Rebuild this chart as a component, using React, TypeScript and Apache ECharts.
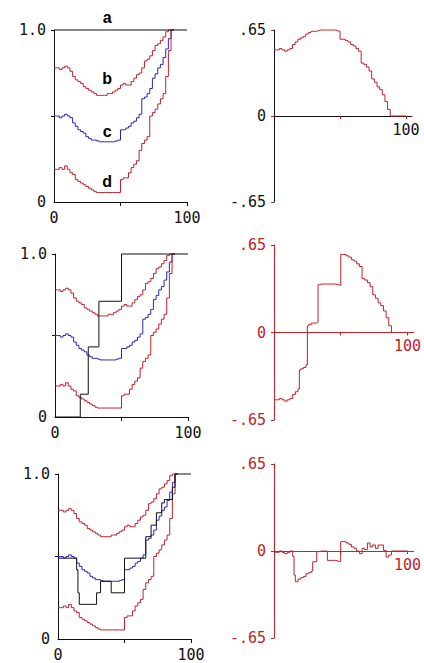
import React, { useEffect, useRef } from "react";
import * as echarts from "echarts";

// x grid of the three band curves
const xs = [0, 2, 4, 6, 8, 10, 12, 14, 16, 18, 20, 22, 24, 26, 28, 30, 32, 34, 36, 38, 40, 42, 44, 46, 48, 50, 52, 54, 56, 58, 60, 62, 64, 66, 68, 70, 72, 74, 76, 78, 80, 82, 84, 86, 88, 90];
// curve b (upper, red)
const curveB = [0.78, 0.78, 0.77, 0.78, 0.79, 0.78, 0.76, 0.73, 0.71, 0.70, 0.69, 0.67, 0.66, 0.65, 0.64, 0.63, 0.62, 0.62, 0.62, 0.62, 0.63, 0.63, 0.64, 0.65, 0.66, 0.68, 0.69, 0.68, 0.68, 0.70, 0.72, 0.74, 0.75, 0.78, 0.82, 0.83, 0.85, 0.88, 0.91, 0.92, 0.94, 0.96, 0.99, 1.0, 1.0, 1.0];
// curve c (middle, blue)
const curveC = [0.50, 0.50, 0.49, 0.50, 0.51, 0.50, 0.49, 0.46, 0.44, 0.42, 0.41, 0.40, 0.38, 0.37, 0.36, 0.36, 0.355, 0.35, 0.35, 0.35, 0.35, 0.35, 0.35, 0.355, 0.36, 0.42, 0.42, 0.43, 0.44, 0.46, 0.47, 0.49, 0.51, 0.60, 0.61, 0.63, 0.66, 0.72, 0.745, 0.78, 0.80, 0.84, 0.89, 0.95, 1.0, 1.0];
// curve d (lower, red)
const curveD = [0.19, 0.19, 0.20, 0.19, 0.21, 0.19, 0.17, 0.16, 0.13, 0.12, 0.11, 0.10, 0.09, 0.08, 0.07, 0.06, 0.055, 0.055, 0.055, 0.055, 0.055, 0.055, 0.055, 0.055, 0.055, 0.13, 0.14, 0.14, 0.17, 0.20, 0.22, 0.24, 0.30, 0.34, 0.36, 0.38, 0.50, 0.52, 0.54, 0.57, 0.60, 0.63, 0.73, 0.88, 1.0, 1.0];

// black step functions, one per row
const stepX1 = [0, 100];
const stepY1 = [1, 1];
const stepX2 = [0, 19, 25, 33, 50, 100];
const stepY2 = [0, 0.14, 0.43, 0.71, 1, 1];
const stepX3 = [0, 14, 15, 16, 29, 32, 40, 50, 66, 70, 74, 78, 80, 86, 88, 100];
const stepY3 = [0.49, 0.42, 0.28, 0.21, 0.28, 0.35, 0.28, 0.49, 0.62, 0.69, 0.765, 0.825, 0.845, 0.92, 1, 1];

// tick labels
const leftYLabelValues = [0, 1];
const leftYLabelTexts = ["0", "1.0"];
const leftXLabelValues = [0, 100];
const leftXLabelTexts = ["0", "100"];
const rightYLabelValues = [-0.65, 0, 0.65];
const rightYLabelTexts = ["-.65", "0", ".65"];
const rightXLabelValues = [100];
const rightXLabelTexts = ["100"];

// curve names in the first panel
const curveNames = ["a", "b", "c", "d"];
const curveNameX = [40, 40, 40, 40];
const curveNameY = [1.07, 0.72, 0.41, 0.12];

const RED = "#c42228";
const BLUE = "#2828c4";
const BLACK = "#111111";
const FONT = "DejaVu Sans Mono";

function stepAt(xArr: number[], yArr: number[], x: number) {
  let v = yArr[0];
  for (let i = 0; i < xArr.length; i++) if (xArr[i] <= x + 1e-9) v = yArr[i];
  return v;
}

function diffSeries(sx: number[], sy: number[]) {
  const all = Array.from(new Set([...xs, ...sx])).filter((x) => x <= 100).sort((a, b) => a - b);
  return all.map((x) => [x, +(stepAt(sx, sy, x) - stepAt(xs, curveC, x)).toFixed(4)]);
}

function fmt(values: number[], texts: string[]) {
  return (v: number) => {
    const i = values.findIndex((t) => Math.abs(t - v) < 1e-6);
    return i >= 0 ? texts[i] : "";
  };
}

const leftGrids = [
  { left: 54, top: 30, width: 133, height: 172 },
  { left: 55, top: 254, width: 133, height: 163 },
  { left: 58, top: 474, width: 133, height: 165 },
];
const rightGrids = [
  { left: 274, top: 30, width: 138, height: 172 },
  { left: 274, top: 245, width: 139.5, height: 175 },
  { left: 274, top: 464, width: 139.5, height: 174 },
];

export default function App() {
  const ref = useRef<HTMLDivElement>(null);
  useEffect(() => {
    if (!ref.current) return;
    const chart = echarts.init(ref.current, undefined, { renderer: "svg" });
    const steps = [
      [stepX1, stepY1],
      [stepX2, stepY2],
      [stepX3, stepY3],
    ];
    const grid: any[] = [];
    const xAxis: any[] = [];
    const yAxis: any[] = [];
    const series: any[] = [];
    for (let p = 0; p < 3; p++) {
      const li = 2 * p;
      const ri = 2 * p + 1;
      grid.push({ ...leftGrids[p], containLabel: false });
      grid.push({ ...rightGrids[p], containLabel: false });
      const rAxisColor = p === 0 ? BLACK : RED;
      const rTextColor = p === 0 ? BLACK : RED;
      // left axes
      xAxis.push({
        type: "value", gridIndex: li, min: 0, max: 100,
        axisLine: { show: true, onZero: false, lineStyle: { color: BLACK, width: 1 } },
        axisTick: { show: true, length: 4, customValues: [50, 100], lineStyle: { color: BLACK } },
        axisLabel: {
          show: true, customValues: leftXLabelValues, formatter: fmt(leftXLabelValues, leftXLabelTexts),
          color: BLACK, fontFamily: FONT, fontSize: 15, margin: 8, showMinLabel: true, showMaxLabel: true,
        },
        splitLine: { show: false },
      });
      yAxis.push({
        type: "value", gridIndex: li, min: 0, max: 1,
        axisLine: { show: true, onZero: false, lineStyle: { color: BLACK, width: 1 } },
        axisTick: { show: true, length: 3, customValues: [0.5, 1], lineStyle: { color: BLACK } },
        axisLabel: {
          show: true, customValues: leftYLabelValues, formatter: fmt(leftYLabelValues, leftYLabelTexts),
          color: BLACK, fontFamily: FONT, fontSize: 15, margin: 8, showMinLabel: true, showMaxLabel: true,
        },
        splitLine: { show: false },
      });
      // right axes: x axis sits on the zero line (middle of the symmetric y range)
      xAxis.push({
        type: "value", gridIndex: ri, min: 0, max: 104.5, position: "bottom",
        offset: -rightGrids[p].height / 2,
        axisLine: { show: true, onZero: false, lineStyle: { color: rAxisColor, width: 1 } },
        axisTick: { show: true, length: 3, customValues: [50, 100], lineStyle: { color: RED } },
        axisLabel: {
          show: true, customValues: rightXLabelValues, formatter: fmt(rightXLabelValues, rightXLabelTexts),
          color: rTextColor, fontFamily: FONT, fontSize: 15, margin: 6,
        },
        splitLine: { show: false },
      });
      yAxis.push({
        type: "value", gridIndex: ri, min: -0.65, max: 0.65, interval: 0.65,
        axisLine: { show: true, onZero: false, lineStyle: { color: rAxisColor, width: 1 } },
        axisTick: { show: true, length: 3, lineStyle: { color: RED } },
        axisLabel: {
          show: true, customValues: rightYLabelValues, formatter: fmt(rightYLabelValues, rightYLabelTexts),
          color: rTextColor, fontFamily: FONT, fontSize: 15, margin: 8, showMinLabel: true, showMaxLabel: true,
        },
        splitLine: { show: false },
      });
      const common = { type: "line", step: "end", symbol: "none", showSymbol: false, clip: false, silent: true, xAxisIndex: li, yAxisIndex: li };
      series.push({ ...common, name: "b" + p, data: xs.map((x, i) => [x, curveB[i]]), lineStyle: { color: RED, width: 1 }, itemStyle: { color: RED }, z: 2 });
      series.push({ ...common, name: "c" + p, data: xs.map((x, i) => [x, curveC[i]]), lineStyle: { color: BLUE, width: 1 }, itemStyle: { color: BLUE }, z: 2 });
      series.push({ ...common, name: "d" + p, data: xs.map((x, i) => [x, curveD[i]]), lineStyle: { color: RED, width: 1 }, itemStyle: { color: RED }, z: 2 });
      const [sx, sy] = steps[p];
      series.push({ ...common, name: "a" + p, data: sx.map((x, i) => [x, sy[i]]), lineStyle: { color: BLACK, width: 1 }, itemStyle: { color: BLACK }, z: 3 });
      series.push({ ...common, name: "diff" + p, xAxisIndex: ri, yAxisIndex: ri, data: diffSeries(sx, sy), lineStyle: { color: RED, width: 1 }, itemStyle: { color: RED }, z: 3 });
    }
    chart.setOption({ animation: false, backgroundColor: "#ffffff", grid, xAxis, yAxis, series });
    const graphic = curveNames.map((t, i) => {
      const pt = chart.convertToPixel({ gridIndex: 0 } as any, [curveNameX[i], curveNameY[i]]) as number[];
      return {
        type: "text", x: pt[0], y: pt[1], silent: true,
        style: { text: t, fill: "#000", fontSize: 16, fontWeight: "bold", fontFamily: "Liberation Sans", align: "center", verticalAlign: "middle" },
      };
    });
    chart.setOption({ graphic });
    return () => chart.dispose();
  }, []);
  return <div ref={ref} style={{ position: "absolute", left: 0, top: 0, width: 424, height: 663 }} />;
}
